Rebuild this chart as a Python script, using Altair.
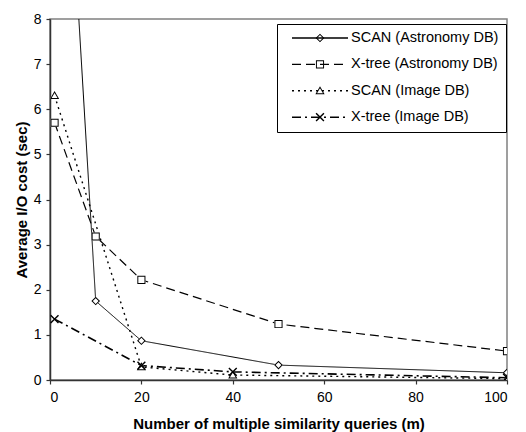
import altair as alt
import pandas as pd

series_names = ["SCAN (Astronomy DB)", "X-tree (Astronomy DB)", "SCAN (Image DB)", "X-tree (Image DB)"]

scan_astro_x = [1, 10, 20, 50, 100]
scan_astro_y = [17.0, 1.75, 0.87, 0.33, 0.16]

xtree_astro_x = [1, 10, 20, 50, 100]
xtree_astro_y = [5.7, 3.18, 2.22, 1.24, 0.64]

scan_image_x = [1, 20, 40, 100]
scan_image_y = [6.3, 0.29, 0.11, 0.03]

xtree_image_x = [1, 20, 40, 100]
xtree_image_y = [1.35, 0.32, 0.18, 0.05]

rows = []
for name, xs, ys in zip(series_names,
                        [scan_astro_x, xtree_astro_x, scan_image_x, xtree_image_x],
                        [scan_astro_y, xtree_astro_y, scan_image_y, xtree_image_y]):
    for i, (xv, yv) in enumerate(zip(xs, ys)):
        rows.append({"m": xv, "cost": yv, "series_line": name, "series_pt": name,
                     "series_bg": name, "order": i})
df = pd.DataFrame(rows)

dashes = [[1, 0], [9, 5], [2, 4], [9, 4, 2, 4]]
widths = [1.0, 1.6, 2.0, 2.0]
# outline markers as rings (outer contour + reversed inner contour), unit-square symbol paths
ring_shapes = [
    "M0,-0.155L0.155,0L0,0.155L-0.155,0Z M0,-0.103L-0.103,0L0,0.103L0.103,0Z",
    "M-0.145,-0.145H0.145V0.145H-0.145Z M-0.11,-0.11V0.11H0.11V-0.11Z",
    "M0,-0.165L0.165,0.12H-0.165Z M0,-0.095L-0.105,0.085H0.105Z",
    "M-0.122,-0.158L0.158,0.122L0.122,0.158L-0.158,-0.122Z M0.158,-0.122L-0.122,0.158L-0.158,0.122L0.122,-0.158Z",
]
bg_shapes = [
    "M0,-0.155L0.155,0L0,0.155L-0.155,0Z",
    "M-0.145,-0.145H0.145V0.145H-0.145Z",
    "M0,-0.165L0.165,0.12H-0.165Z",
    "M0,0L0.001,0Z",
]

SYM = 3136
x_enc = alt.X("m:Q", scale=alt.Scale(domain=[0, 100], nice=False),
              axis=alt.Axis(values=[0, 20, 40, 60, 80, 100], title="Number of multiple similarity queries (m)",
                            grid=False, tickSize=4, labelPadding=6, titlePadding=12))
y_enc = alt.Y("cost:Q", scale=alt.Scale(domain=[0, 8], nice=False),
              axis=alt.Axis(values=list(range(0, 9)), title="Average I/O cost (sec)",
                            grid=False, tickSize=4, labelPadding=5, titlePadding=4))

legend_common = dict(orient="none", legendX=227, legendY=5, title=None, padding=7,
                     rowPadding=11.4, labelOffset=2, symbolOffset=7, symbolSize=SYM, labelFontSize=14.5,
                     labelFont="Liberation Sans", labelLimit=300, clipHeight=14)

lines = alt.Chart(df).mark_line(clip=True, color="black").encode(
    x=x_enc, y=y_enc,
    order="order:Q",
    strokeDash=alt.StrokeDash("series_line:N", scale=alt.Scale(domain=series_names, range=dashes),
                              sort=series_names,
                              legend=alt.Legend(symbolType="stroke", symbolStrokeWidth=1.4,
                                                symbolStrokeColor="black",
                                                strokeColor="black", **legend_common)),
    strokeWidth=alt.StrokeWidth("series_line:N", scale=alt.Scale(domain=series_names, range=widths), legend=None),
)

bg_points = alt.Chart(df).mark_point(clip=True, filled=True, color="white", opacity=1, size=SYM).encode(
    x="m:Q", y="cost:Q",
    shape=alt.Shape("series_bg:N", scale=alt.Scale(domain=series_names, range=bg_shapes), legend=None),
)

points = alt.Chart(df).mark_point(clip=True, filled=True, color="black", opacity=1, size=SYM).encode(
    x="m:Q", y="cost:Q",
    shape=alt.Shape("series_pt:N", scale=alt.Scale(domain=series_names, range=ring_shapes),
                    sort=series_names,
                    legend=alt.Legend(symbolFillColor="black", symbolOpacity=1,
                                      labelColor="transparent", **legend_common)),
)

chart = alt.layer(lines, bg_points, points).resolve_scale(shape="independent").resolve_legend(
    strokeDash="independent", shape="independent").properties(
    width=457, height=361,
    autosize=alt.AutoSizeParams(type="none"),
    padding={"left": 42, "top": 11, "right": 10, "bottom": 52},
).configure_view(stroke="#808080", strokeWidth=1.5).configure_axis(
    labelFont="Liberation Sans", titleFont="Liberation Sans", labelFontSize=14, titleFontSize=15,
    titleFontWeight="bold", labelColor="black", titleColor="black",
    domainColor="#333333", domainWidth=1.5, tickColor="#333333", tickWidth=1.2,
)

chart.save("out.html", embed_options={"renderer": "svg", "actions": False})
